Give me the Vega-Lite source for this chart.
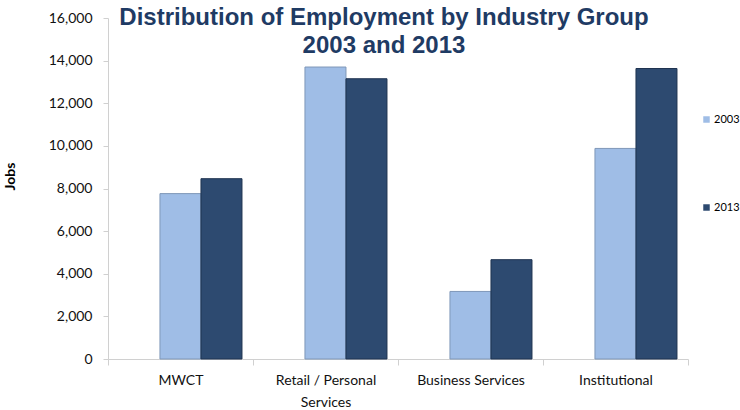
{
  "$schema": "https://vega.github.io/schema/vega-lite/v6.json",
  "width": 580,
  "height": 341,
  "autosize": "none",
  "padding": {"left": 108, "top": 18, "right": 52, "bottom": 51},
  "background": "white",
  "title": {
    "text": ["Distribution of Employment by Industry Group", "2003 and 2013"],
    "anchor": "middle",
    "frame": "group",
    "dx": -14,
    "offset": -47,
    "font": "Liberation Sans",
    "fontSize": 24,
    "fontWeight": "bold",
    "color": "#1f3b64",
    "lineHeight": 28
  },
  "data": {
    "values": [
      {"group": "MWCT", "year": "2003", "jobs": 7760},
      {"group": "MWCT", "year": "2013", "jobs": 8460},
      {"group": "Retail / Personal Services", "year": "2003", "jobs": 13700},
      {"group": "Retail / Personal Services", "year": "2013", "jobs": 13150},
      {"group": "Business Services", "year": "2003", "jobs": 3170},
      {"group": "Business Services", "year": "2013", "jobs": 4660},
      {"group": "Institutional", "year": "2003", "jobs": 9880},
      {"group": "Institutional", "year": "2013", "jobs": 13630}
    ]
  },
  "mark": {"type": "bar", "strokeWidth": 1},
  "encoding": {
    "x": {
      "field": "group",
      "type": "nominal",
      "sort": null,
      "scale": {"paddingInner": 0, "paddingOuter": 0},
      "axis": {
        "title": null,
        "labelAngle": 0,
        "labelFont": "Lato",
        "labelFontSize": 14,
        "labelColor": "#111111",
        "labelPadding": 8,
        "labelLineHeight": 22,
        "labelExpr": "datum.value == 'Retail / Personal Services' ? ['Retail / Personal', 'Services'] : datum.value",
        "tickBand": "extent",
        "tickSize": 6,
        "tickColor": "#d0d0d0",
        "domainColor": "#d0d0d0",
        "grid": false
      }
    },
    "xOffset": {
      "field": "year",
      "type": "nominal",
      "scale": {"paddingInner": 0, "paddingOuter": 0.768, "align": 0.825}
    },
    "y": {
      "field": "jobs",
      "type": "quantitative",
      "scale": {"domain": [0, 16000], "nice": false},
      "axis": {
        "title": "Jobs",
        "titleFont": "Lato",
        "titleFontSize": 14,
        "titleFontWeight": "bold",
        "titleColor": "#000000",
        "titleX": -91,
        "titleY": 158,
        "values": [0, 2000, 4000, 6000, 8000, 10000, 12000, 14000, 16000],
        "format": ",.0f",
        "labelFont": "Lato",
        "labelFontSize": 14,
        "labelColor": "#111111",
        "labelPadding": 11,
        "tickSize": 5,
        "tickColor": "#d0d0d0",
        "domainColor": "#d0d0d0",
        "grid": false
      }
    },
    "color": {
      "field": "year",
      "type": "nominal",
      "scale": {"domain": ["2003", "2013"], "range": ["#9fbde6", "#2d4a70"]},
      "legend": {
        "title": null,
        "orient": "none",
        "legendX": 593,
        "legendY": 96,
        "symbolType": "square",
        "symbolSize": 42,
        "symbolStrokeWidth": 0,
        "labelFont": "Lato",
        "labelFontSize": 11,
        "labelColor": "#000000",
        "labelOffset": 2,
        "rowPadding": 76
      }
    },
    "stroke": {
      "field": "year",
      "type": "nominal",
      "scale": {"domain": ["2003", "2013"], "range": ["#7f97b8", "#1f3350"]},
      "legend": null
    }
  },
  "config": {"view": {"stroke": null}}
}
